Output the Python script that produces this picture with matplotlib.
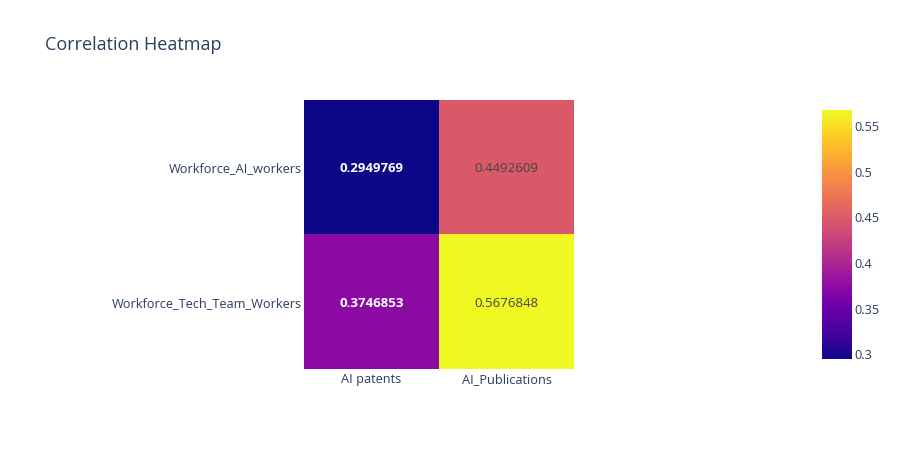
import numpy as np
import matplotlib
matplotlib.use('Agg')
import matplotlib.pyplot as plt
from matplotlib.colors import Normalize

plt.rcParams['font.family'] = ['Open Sans', 'DejaVu Sans']

# correlation values
row_labels = ['Workforce_AI_workers', 'Workforce_Tech_Team_Workers']
col_labels = ['AI patents', 'AI_Publications']
corr = np.array([[0.2949769, 0.4492609],
                 [0.3746853, 0.5676848]])
cbar_ticks = [0.3, 0.35, 0.4, 0.45, 0.5, 0.55]
cbar_labels = ['0.3', '0.35', '0.4', '0.45', '0.5', '0.55']

tick_color = '#2a3f5f'

fig = plt.figure(figsize=(9.02, 4.5), dpi=100)
ax = fig.add_axes([304 / 902, 1 - 369 / 450, 270 / 902, 269 / 450])

norm = Normalize(vmin=corr.min(), vmax=corr.max())
im = ax.imshow(corr, cmap='plasma', norm=norm, aspect='auto')

for i in range(corr.shape[0]):
    for j in range(corr.shape[1]):
        val = corr[i, j]
        # light text on dark cells, dark text on light cells
        if norm(val) < 0.5:
            ax.text(j, i + 0.01, f'{val:.7f}', ha='center', va='center',
                    color='white', fontsize=9.5, fontweight='bold')
        else:
            ax.text(j, i + 0.01, f'{val:.7f}', ha='center', va='center',
                    color='#444444', fontsize=9.5)

ax.set_xticks(range(len(col_labels)))
ax.set_xticklabels(col_labels)
ax.set_yticks(range(len(row_labels)))
ax.set_yticklabels(row_labels)
ax.tick_params(axis='y', length=0, labelsize=9.2, colors=tick_color, pad=1.5)
ax.tick_params(axis='x', length=0, labelsize=9.2, colors=tick_color, pad=3)
for s in ax.spines.values():
    s.set_visible(False)

cax = fig.add_axes([822 / 902, 1 - 359 / 450, 30 / 902, 249 / 450])
cb = fig.colorbar(im, cax=cax)
cb.set_ticks(cbar_ticks)
cb.set_ticklabels(cbar_labels)
cb.outline.set_visible(False)
cax.tick_params(length=0, labelsize=9.2, colors=tick_color, pad=1.5)

fig.text(45 / 902, 1 - 45 / 450, 'Correlation Heatmap', fontsize=13,
         color=tick_color, va='center', ha='left')

fig.savefig('out.png', dpi=100)
